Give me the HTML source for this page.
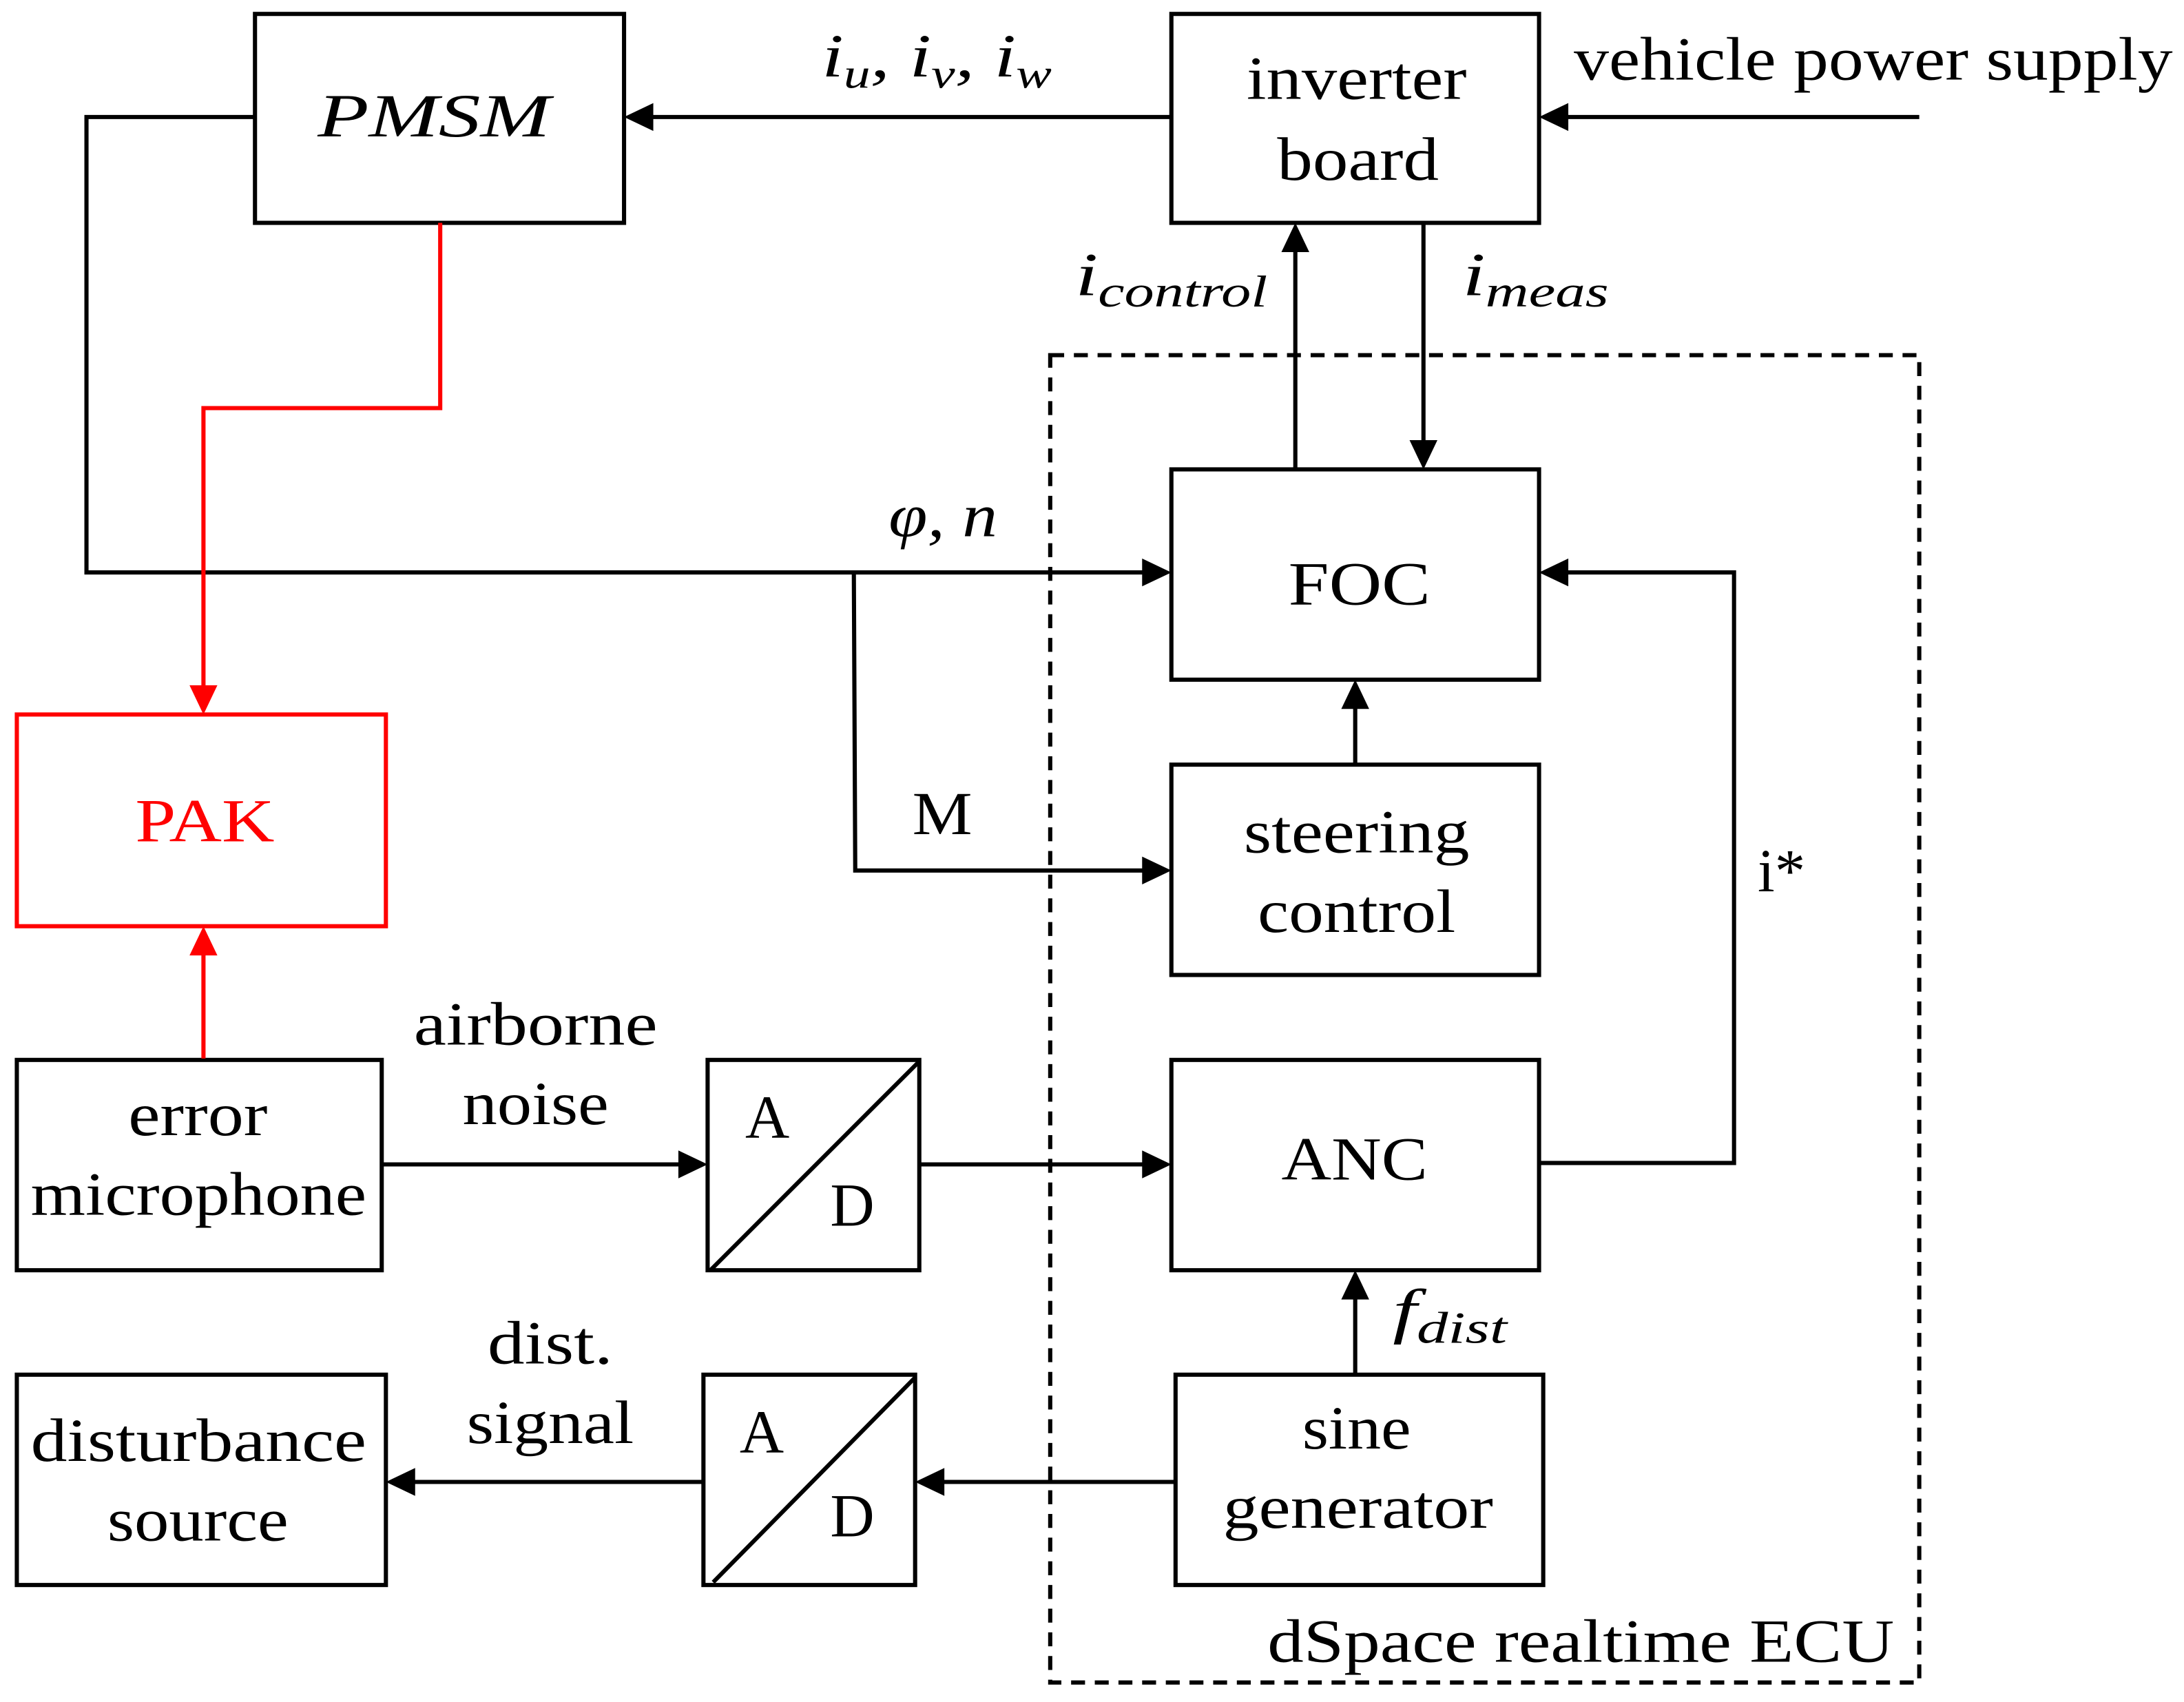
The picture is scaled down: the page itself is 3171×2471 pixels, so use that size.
<!DOCTYPE html>
<html><head><meta charset="utf-8"><style>
html,body{margin:0;padding:0;background:#fff;}
svg{display:block;}
text{font-family:"Liberation Serif","DejaVu Serif",serif;fill:#000;}
</style></head><body>
<svg width="3171" height="2471" viewBox="0 0 1568 1222" xmlns="http://www.w3.org/2000/svg">
<g fill="none" stroke="#000" stroke-width="3">
<rect x="183" y="10" width="265" height="150"/>
<rect x="841" y="10" width="264" height="150"/>
<rect x="841" y="337" width="264" height="151"/>
<rect x="841" y="549" width="264" height="151"/>
<rect x="841" y="761" width="264" height="151"/>
<rect x="844" y="987" width="264" height="151"/>
<rect x="12" y="761" width="262" height="151"/>
<rect x="12" y="987" width="265" height="151"/>
<rect x="508" y="761" width="152" height="151"/>
<line x1="510" y1="912" x2="660" y2="762"/>
<rect x="505" y="987" width="152" height="151"/>
<line x1="512" y1="1136" x2="657" y2="989"/>
<rect x="754" y="255" width="624" height="953" stroke-dasharray="10,7"/>
<line x1="1378" y1="84" x2="1125" y2="84"/>
<line x1="841" y1="84" x2="468" y2="84"/>
<polyline points="183,84 62,84 62,411 821,411"/>
<polyline points="613,411 614,625 821,625"/>
<line x1="930" y1="337" x2="930" y2="180"/>
<line x1="1022" y1="160" x2="1022" y2="317"/>
<line x1="973" y1="549" x2="973" y2="508"/>
<line x1="274" y1="836" x2="488" y2="836"/>
<line x1="660" y1="836" x2="821" y2="836"/>
<polyline points="1105,835 1245,835 1245,411 1125,411"/>
<line x1="973" y1="987" x2="973" y2="932"/>
<line x1="844" y1="1064" x2="677" y2="1064"/>
<line x1="505" y1="1064" x2="297" y2="1064"/>
</g>
<g fill="none" stroke="#f00" stroke-width="3">
<rect x="12" y="513" width="265" height="152"/>
<polyline points="316,160 316,293 146,293 146,493"/>
<line x1="146" y1="760" x2="146" y2="685"/>
</g>
<g fill="#000">
<polygon points="1105,84 1126,74 1126,94"/>
<polygon points="448,84 469,74 469,94"/>
<polygon points="841,411 820,401 820,421"/>
<polygon points="841,625 820,615 820,635"/>
<polygon points="930,160 920,181 940,181"/>
<polygon points="1022,337 1012,316 1032,316"/>
<polygon points="973,488 963,509 983,509"/>
<polygon points="508,836 487,826 487,846"/>
<polygon points="841,836 820,826 820,846"/>
<polygon points="1105,411 1126,401 1126,421"/>
<polygon points="973,912 963,933 983,933"/>
<polygon points="657,1064 678,1054 678,1074"/>
<polygon points="277,1064 298,1054 298,1074"/>
</g>
<g fill="#f00">
<polygon points="146,513 136,492 156,492"/>
<polygon points="146,665 136,686 156,686"/>
</g>
<g font-size="44" lengthAdjust="spacingAndGlyphs">
<text x="228" y="98" font-style="italic" textLength="167" lengthAdjust="spacingAndGlyphs">PMSM</text>
<text x="895" y="71" textLength="158" lengthAdjust="spacingAndGlyphs">inverter</text>
<text x="917" y="129" textLength="116" lengthAdjust="spacingAndGlyphs">board</text>
<text x="925" y="434" textLength="102" lengthAdjust="spacingAndGlyphs">FOC</text>
<text x="893" y="612" textLength="162" lengthAdjust="spacingAndGlyphs">steering</text>
<text x="903" y="669" textLength="142" lengthAdjust="spacingAndGlyphs">control</text>
<text x="920" y="847" textLength="105" lengthAdjust="spacingAndGlyphs">ANC</text>
<text x="935" y="1040" textLength="78" lengthAdjust="spacingAndGlyphs">sine</text>
<text x="878" y="1097" textLength="194" lengthAdjust="spacingAndGlyphs">generator</text>
<text x="92" y="815" textLength="100" lengthAdjust="spacingAndGlyphs">error</text>
<text x="22" y="872" textLength="241" lengthAdjust="spacingAndGlyphs">microphone</text>
<text x="22" y="1049" textLength="241" lengthAdjust="spacingAndGlyphs">disturbance</text>
<text x="77" y="1106" textLength="130" lengthAdjust="spacingAndGlyphs">source</text>
<text x="297" y="750" textLength="175" lengthAdjust="spacingAndGlyphs">airborne</text>
<text x="332" y="807" textLength="105" lengthAdjust="spacingAndGlyphs">noise</text>
<text x="350" y="979" textLength="90" lengthAdjust="spacingAndGlyphs">dist.</text>
<text x="335" y="1036" textLength="120" lengthAdjust="spacingAndGlyphs">signal</text>
<text x="97" y="604" style="fill:#f00" textLength="100" lengthAdjust="spacingAndGlyphs">PAK</text>
<text x="535" y="817">A</text>
<text x="596" y="880">D</text>
<text x="531" y="1043">A</text>
<text x="596" y="1103">D</text>
<text x="655" y="599" textLength="43" lengthAdjust="spacingAndGlyphs">M</text>
<text x="1262" y="640">i*</text>
<text x="1130" y="57" textLength="430" lengthAdjust="spacingAndGlyphs">vehicle power supply</text>
<text x="910" y="1193" textLength="450" lengthAdjust="spacingAndGlyphs">dSpace realtime ECU</text>
</g>
<g font-size="44" font-style="italic">
<text x="590" y="55" textLength="165" lengthAdjust="spacingAndGlyphs">i<tspan font-size="30" dy="8">u</tspan><tspan dy="-8">, i</tspan><tspan font-size="30" dy="8">v</tspan><tspan dy="-8">, i</tspan><tspan font-size="30" dy="8">w</tspan></text>
<text x="772" y="212" textLength="138" lengthAdjust="spacingAndGlyphs">i<tspan font-size="32" dy="8">control</tspan></text>
<text x="1050" y="212" textLength="105" lengthAdjust="spacingAndGlyphs">i<tspan font-size="32" dy="8">meas</tspan></text>
<text x="638" y="385" textLength="78" lengthAdjust="spacingAndGlyphs">φ, n</text>
<text x="1000" y="956" textLength="82" lengthAdjust="spacingAndGlyphs">f<tspan font-size="32" dy="8">dist</tspan></text>
</g>
</svg>
</body></html>
